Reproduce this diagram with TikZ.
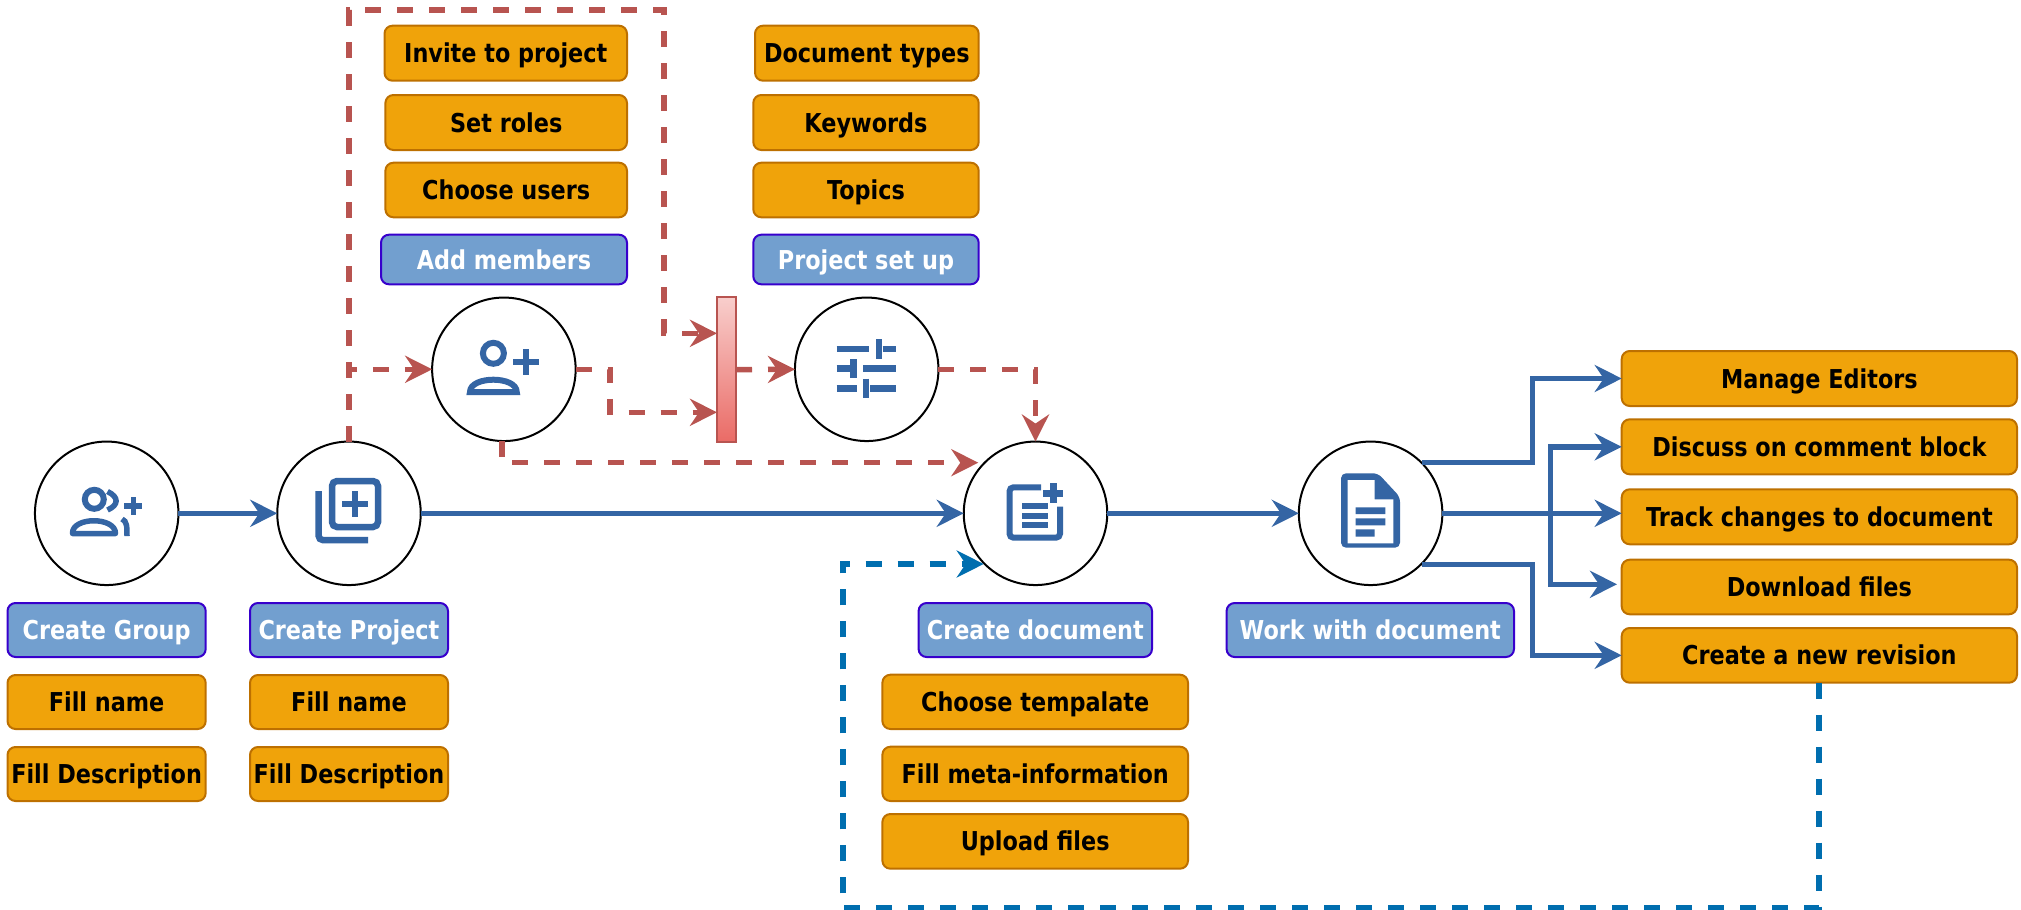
\documentclass[tikz,border=0pt]{standalone}
\usepackage{fontspec}
\setmainfont{DejaVu Sans}[FakeStretch=0.86]
\usetikzlibrary{arrows.meta}
\definecolor{bl}{HTML}{3465A4}
\definecolor{rd}{HTML}{B85450}
\definecolor{tl}{HTML}{006EAF}
\definecolor{orf}{HTML}{F0A30A}
\definecolor{ord}{HTML}{BD7000}
\definecolor{pbf}{HTML}{729FCF}
\definecolor{pbd}{HTML}{3700CC}
\definecolor{brt}{HTML}{F8CECC}
\definecolor{brb}{HTML}{EA6B66}
\newcommand{\bx}[7]{%
  \pgfmathsetmacro{\cx}{(#3+#5)/2}\pgfmathsetmacro{\cy}{(#4+#6)/2}%
  \pgfmathsetmacro{\bw}{#5-#3}\pgfmathsetmacro{\bh}{#6-#4}%
  \node[#1,minimum width=\bw pt,minimum height=\bh pt] (#2) at (\cx,\cy) {#7};}
\tikzset{
  anybox/.style={rounded corners=8pt,line width=2pt,outer sep=0pt,inner sep=0pt,
    text height=19pt,text depth=0pt,font=\fontsize{26}{30}\selectfont\bfseries},
  obox/.style={anybox,fill=orf,draw=ord,text=black},
  pbox/.style={anybox,fill=pbf,draw=pbd,text=white},
  circ/.style={circle,draw=black,fill=white,line width=2pt,minimum size=143.5pt,inner sep=0pt,outer sep=0pt},
  tip/.style={-{Stealth[length=27pt,width=27pt,inset=9pt]}},
  blueline/.style={tip,draw=bl,line width=5.5pt,line join=miter},
  redline/.style={tip,draw=rd,line width=5.5pt,line join=miter,dash pattern=on 16pt off 16pt},
  tealline/.style={tip,draw=tl,line width=5.5pt,line join=miter,dash pattern=on 16pt off 16pt},
  ic/.style={draw=bl,line width=5.5pt},
}
\begin{document}
\begin{tikzpicture}[x=1pt,y=-1pt]
\useasboundingbox (0,0) rectangle (2021,910);
% circles
\node[circ] (cgroup) at (106.7,513.3) {};
\node[circ] (cproj) at (349,513.3) {};
\node[circ] (cmem) at (503.9,369.3) {};
\node[circ] (cset) at (866.7,369.3) {};
\node[circ] (cdoc) at (1035.5,513.3) {};
\node[circ] (cwork) at (1370.6,513.3) {};
\node[rectangle,draw=rd,top color=brt,bottom color=brb,line width=2pt,minimum width=19pt,minimum height=144.7pt,inner sep=0pt,outer sep=0pt] (bar) at (726.5,369.6) {};
% boxes
\bx{pbox}{bgroup}{7.5}{603}{205.7}{657}{Create Group}
\bx{obox}{gname}{7.5}{675}{205.7}{729}{Fill name}
\bx{obox}{gdesc}{7.5}{747}{205.7}{801}{Fill Description}
\bx{pbox}{bproj}{250}{603}{448}{657}{Create Project}
\bx{obox}{pname}{250}{675}{448}{729}{Fill name}
\bx{obox}{pdesc}{250}{747}{448}{801}{Fill Description}
\bx{obox}{inv}{384.5}{25.7}{627}{80.7}{Invite to project}
\bx{obox}{roles}{385.4}{95}{627}{150}{Set roles}
\bx{obox}{users}{385.4}{162.7}{627}{217.3}{Choose users}
\bx{pbox}{bmem}{381}{234.7}{627}{284.3}{Add members}
\bx{obox}{dtypes}{755}{25.7}{978.7}{80.7}{Document types}
\bx{obox}{keyw}{753.3}{95}{978.7}{150}{Keywords}
\bx{obox}{topics}{753.3}{162.7}{978.7}{217.3}{Topics}
\bx{pbox}{bset}{753.3}{234.7}{978.7}{284.3}{Project set up}
\bx{pbox}{bdoc}{918.6}{603}{1152}{657}{Create document}
\bx{obox}{tmpl}{882.4}{674.7}{1188}{729}{Choose tempalate}
\bx{obox}{meta}{882.4}{746.7}{1188}{801}{Fill meta-information}
\bx{obox}{upl}{882.4}{814}{1188}{868.7}{Upload files}
\bx{pbox}{bwork}{1226.6}{603}{1514}{657}{Work with document}
\bx{obox}{edit}{1621.7}{351}{2017}{406}{Manage Editors}
\bx{obox}{disc}{1621.7}{419.3}{2017}{474.3}{Discuss on comment block}
\bx{obox}{track}{1621.7}{489.3}{2017}{544.3}{Track changes to document}
\bx{obox}{down}{1621.7}{559.7}{2017}{614.3}{Download files}
\bx{obox}{rev}{1621.7}{628}{2017}{682.7}{Create a new revision}
% named free points
\coordinate (topl) at (349,10);
\coordinate (topr) at (664,10);
\coordinate (barin1) at (bar.west |- 0,333.3);
\coordinate (barin2) at (bar.west |- 0,412.3);
\coordinate (memout) at (501.9,441);
\coordinate (docin) at (978.3,462.7);
\coordinate (tealin) at (983.7,564);
\coordinate (wout1) at (1421.8,462.7);
\coordinate (wout2) at (1421.8,564.3);
\coordinate (revout) at (1819,682.7);
\coordinate (tealb) at (1819,908);
\coordinate (teall) at (843,908);
\coordinate (editin) at (edit.west);
\coordinate (revin) at (rev.west);
\coordinate (downin) at (1617,584.3);
\coordinate (jn) at (1550.3,513.3);
% red
\draw[redline] (cproj.north) -- (topl) -- (topr) |- (barin1);
\draw[redline] (cproj.north) |- (cmem.west);
\draw[redline] (cmem.east) -- (610,369.3) |- (barin2);
\draw[redline] (memout) |- (docin);
\draw[redline] (bar.east) -- (cset.west);
\draw[redline] (cset.east) -| (cdoc.north);
% blue
\draw[blueline] (cgroup) -- (cproj);
\draw[blueline] (cproj) -- (cdoc);
\draw[blueline] (cdoc) -- (cwork);
\draw[blueline] (wout1) -- (1532.4,462.7) |- (editin);
\draw[blueline] (cwork.east) -- (track.west |- cwork.east);
\draw[blueline] (wout2) -- (1532.4,564.3) |- (revin);
\draw[blueline] (jn) |- (disc.west);
\draw[blueline] (jn) |- (downin);
% teal
\draw[tealline] (revout) -- (tealb) -- (teall) |- (tealin);
% icon: group add
\draw[ic,line width=6pt] (94.3,499.3) circle (9.5);
\draw[ic] (107.5,491.5) .. controls (119,497) and (119,505) .. (107.5,510);
\draw[ic,line join=round] (72.5,533.5) .. controls (72,516.5) and (115.5,516.5) .. (115.5,533.5) -- cycle;
\draw[ic] (122,519) .. controls (127,521) and (127,527) .. (127,536);
\draw[ic] (133.3,497) -- (133.3,515) (124,506) -- (142,506);
% icon: library add
\draw[ic,line width=6.5pt,rounded corners=5pt] (332,481) rectangle (378,527);
\draw[ic,line width=6.5pt] (355,491) -- (355,517) (342,504) -- (368,504);
\draw[ic,line width=6.5pt,rounded corners=4pt] (318.7,491) -- (318.7,540) -- (368,540);
% icon: person add
\draw[ic,line width=6pt] (493.4,353.3) circle (10.5);
\draw[ic,line width=6pt] (470,392) .. controls (470,375.6) and (516.7,375.6) .. (516.7,392) -- cycle;
\draw[ic,line width=6pt] (526.4,349.3) -- (526.4,375.3) (513.4,362.3) -- (539.4,362.3);
% icon: tune
\draw[ic,line width=6.5pt]
  (836.7,349) -- (869.3,349) (882.7,349) -- (896,349) (879,339.3) -- (879,359)
  (836.7,368.7) -- (856.7,368.7) (863.3,368.7) -- (896,368.7) (853.3,359) -- (853.3,378.3)
  (836.7,388.3) -- (856.7,388.3) (870,388.3) -- (896,388.3) (866,378.7) -- (866,398.3);
% icon: post add
\draw[ic,line width=6pt,rounded corners=4pt] (1041,487.3) -- (1009.5,487.3) -- (1009.5,537.7) -- (1060,537.7) -- (1060,506.7);
\draw[ic,line width=6.5pt] (1053.4,483.3) -- (1053.4,503.3) (1043.4,493.3) -- (1063.4,493.3);
\draw[ic,line width=6pt] (1022,506) -- (1047.6,506) (1022,515.7) -- (1047.6,515.7) (1022,525.3) -- (1047.6,525.3);
% icon: document
\fill[bl,rounded corners=5pt] (1341,473.3) -- (1378,473.3) -- (1400,497) -- (1400,547.7) -- (1341,547.7) -- cycle;
\fill[white] (1347.6,480) -- (1374.5,480) -- (1374.5,499.3) -- (1393.4,499.3) -- (1393.4,543.3) -- (1347.6,543.3) -- cycle;
\fill[bl] (1355.6,507.3) rectangle (1385.4,514) (1355.6,518.3) rectangle (1385.4,525.3) (1355.6,529.3) rectangle (1374.5,536.7);
\end{tikzpicture}
\end{document}
